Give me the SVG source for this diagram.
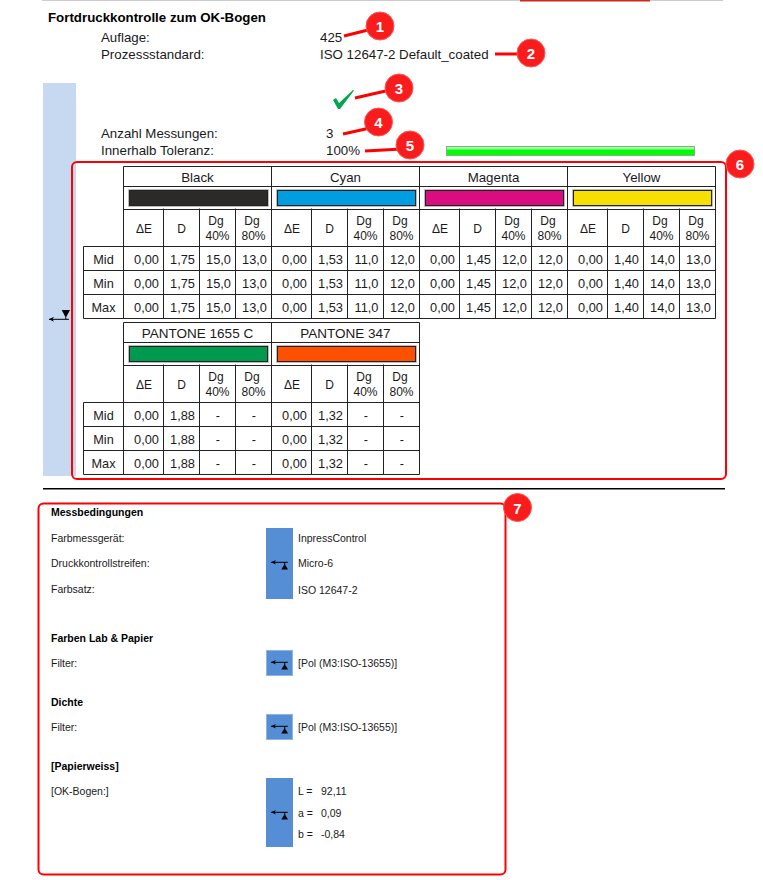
<svg xmlns="http://www.w3.org/2000/svg" width="763" height="880" viewBox="0 0 763 880">
<style>
text{font-family:"Liberation Sans",Arial,sans-serif;fill:#1a1a1a}
.t{font-size:13.3px}
.h{font-size:13.3px;font-weight:bold;fill:#000}
.c{font-size:13.3px;text-anchor:middle}
.d{font-size:12px;text-anchor:middle}
.r{font-size:12.7px;text-anchor:middle}
.n{font-size:12.8px;text-anchor:middle}
.s{font-size:10.5px}
.b{font-size:10.5px;font-weight:bold;fill:#000}
.grid{fill:none;stroke:#222;stroke-width:1}
.sw{stroke:#222;stroke-width:1}
.sw2{fill:none;stroke:#bbb;stroke-width:1}
.blue{fill:#558ed5}
.bluef{fill:#558ed5;stroke:#8eb4e3;stroke-width:1}
.box{fill:none;stroke:#f00;stroke-width:2}
.lead{fill:none;stroke:#f00;stroke-width:3}
.dot{fill:#f91c1c;stroke:#f55;stroke-width:1}
.num{font-size:15px;font-weight:bold;fill:#fff;text-anchor:middle}
</style>
<defs>
<g id="icon-up"><path d="M-13-.7H3.800" fill="none" stroke="#000"/><path d="M-13-.7L-8-3L-9.500-.7L-8 1.500Z" fill="#000"/><path d="M-2.700 6.500H4L.7 1Z" fill="#000"/><path d="M.7-.7V2" stroke="#000"/></g>
</defs>
<rect x="42" y="0" width="681" height="1" fill="#ccc"/>
<rect x="520" y="0" width="130" height="1.500" fill="#d0281a"/>

<g id="header">
<text class="h" x="48" y="22">Fortdruckkontrolle zum OK-Bogen</text>
<text class="t" x="101" y="42">Auflage:</text>
<text class="t" x="320" y="42">425</text>
<text class="t" x="101" y="59">Prozessstandard:</text>
<text class="t" x="320" y="59">ISO 12647-2 Default_coated</text>
</g>

<g id="summary">
<rect x="43" y="83" width="33" height="393" fill="#c6d9f1"/>
<g transform="translate(49,319.300)"><path d="M0 0H20" fill="none" stroke="#000"/><path d="M5-2.500L0 0L5 2.500L3.500 0Z" fill="#000"/><path d="M12.700-9.300H21L16.800-1.500Z" fill="#000"/><path d="M16.800-2V0" stroke="#000"/></g>
<path d="M333 100L336 98L339 103L353 90L354 90.500L340 109H338Z" fill="#00a651"/>
<text class="t" x="101" y="138">Anzahl Messungen:</text>
<text class="t" x="326" y="138">3</text>
<text class="t" x="101" y="155">Innerhalb Toleranz:</text>
<text class="t" x="326" y="155">100%</text>
<rect x="446.500" y="146.500" width="248" height="9" fill="#0f0" stroke="#8fa88f"/>
<rect x="447" y="147" width="247" height="2.500" fill="#9f9"/>
</g>

<g id="table-cmyk">
<rect x="129.500" y="190.500" width="138" height="15" fill="#2b2a29" class="sw"/>
<rect x="277.500" y="190.500" width="138" height="15" fill="#009ee0" class="sw"/>
<rect x="425.500" y="190.500" width="138" height="15" fill="#d90d7f" class="sw"/>
<rect x="573.500" y="190.500" width="138" height="15" fill="#f7e000" class="sw"/>
<path class="sw2" d="M128.500 189.500h140v17h-140zM276.500 189.500h140v17h-140zM424.500 189.500h140v17h-140zM572.500 189.500h140v17h-140z"/>
<path class="grid" d="M123.500 166.500H715.500M123.500 186.500H715.500M123.500 209.500H715.500M83.500 246.500H715.500M83.500 270.500H715.500M83.500 294.500H715.500M83.500 318.500H715.500M83.500 246.500V318.500M123.500 166.500V318.500M271.500 166.500V318.500M419.500 166.500V318.500M567.500 166.500V318.500M715.500 166.500V318.500M163.500 208.500V318.500M199.500 208.500V318.500M235.500 208.500V318.500M311.500 208.500V318.500M347.500 208.500V318.500M383.500 208.500V318.500M459.500 208.500V318.500M495.500 208.500V318.500M531.500 208.500V318.500M607.500 208.500V318.500M643.500 208.500V318.500M679.500 208.500V318.500"/>
<text class="c" x="197.500" y="182">Black</text><text class="c" x="345.500" y="182">Cyan</text><text class="c" x="493.500" y="182">Magenta</text><text class="c" x="641.500" y="182">Yellow</text>
<text class="d" x="144" y="233">ΔE</text><text class="d" x="181.500" y="233">D</text><text class="d" x="216" y="225">Dg</text><text class="d" x="217.500" y="240">40%</text><text class="d" x="252" y="225">Dg</text><text class="d" x="253.500" y="240">80%</text>
<text class="d" x="292" y="233">ΔE</text><text class="d" x="329.500" y="233">D</text><text class="d" x="364" y="225">Dg</text><text class="d" x="365.500" y="240">40%</text><text class="d" x="400" y="225">Dg</text><text class="d" x="401.500" y="240">80%</text>
<text class="d" x="440" y="233">ΔE</text><text class="d" x="477.500" y="233">D</text><text class="d" x="512" y="225">Dg</text><text class="d" x="513.500" y="240">40%</text><text class="d" x="548" y="225">Dg</text><text class="d" x="549.500" y="240">80%</text>
<text class="d" x="588" y="233">ΔE</text><text class="d" x="625.500" y="233">D</text><text class="d" x="660" y="225">Dg</text><text class="d" x="661.500" y="240">40%</text><text class="d" x="696" y="225">Dg</text><text class="d" x="697.500" y="240">80%</text>
<text class="r" x="103.500" y="264">Mid</text><text class="n" x="146.500" y="264">0,00</text><text class="n" x="182.500" y="264">1,75</text><text class="n" x="218.500" y="264">15,0</text><text class="n" x="254.500" y="264">13,0</text><text class="n" x="294.500" y="264">0,00</text><text class="n" x="330.500" y="264">1,53</text><text class="n" x="366.500" y="264">11,0</text><text class="n" x="402.500" y="264">12,0</text><text class="n" x="442.500" y="264">0,00</text><text class="n" x="478.500" y="264">1,45</text><text class="n" x="514.500" y="264">12,0</text><text class="n" x="550.500" y="264">12,0</text><text class="n" x="590.500" y="264">0,00</text><text class="n" x="626.500" y="264">1,40</text><text class="n" x="662.500" y="264">14,0</text><text class="n" x="698.500" y="264">13,0</text>
<text class="r" x="103.500" y="288">Min</text><text class="n" x="146.500" y="288">0,00</text><text class="n" x="182.500" y="288">1,75</text><text class="n" x="218.500" y="288">15,0</text><text class="n" x="254.500" y="288">13,0</text><text class="n" x="294.500" y="288">0,00</text><text class="n" x="330.500" y="288">1,53</text><text class="n" x="366.500" y="288">11,0</text><text class="n" x="402.500" y="288">12,0</text><text class="n" x="442.500" y="288">0,00</text><text class="n" x="478.500" y="288">1,45</text><text class="n" x="514.500" y="288">12,0</text><text class="n" x="550.500" y="288">12,0</text><text class="n" x="590.500" y="288">0,00</text><text class="n" x="626.500" y="288">1,40</text><text class="n" x="662.500" y="288">14,0</text><text class="n" x="698.500" y="288">13,0</text>
<text class="r" x="103.500" y="312">Max</text><text class="n" x="146.500" y="312">0,00</text><text class="n" x="182.500" y="312">1,75</text><text class="n" x="218.500" y="312">15,0</text><text class="n" x="254.500" y="312">13,0</text><text class="n" x="294.500" y="312">0,00</text><text class="n" x="330.500" y="312">1,53</text><text class="n" x="366.500" y="312">11,0</text><text class="n" x="402.500" y="312">12,0</text><text class="n" x="442.500" y="312">0,00</text><text class="n" x="478.500" y="312">1,45</text><text class="n" x="514.500" y="312">12,0</text><text class="n" x="550.500" y="312">12,0</text><text class="n" x="590.500" y="312">0,00</text><text class="n" x="626.500" y="312">1,40</text><text class="n" x="662.500" y="312">14,0</text><text class="n" x="698.500" y="312">13,0</text>
</g>

<g id="table-pantone">
<rect x="129.500" y="346.500" width="138" height="15" fill="#009a4e" class="sw"/>
<rect x="277.500" y="346.500" width="138" height="15" fill="#ff5000" class="sw"/>
<path class="sw2" d="M128.500 345.500h140v17h-140zM276.500 345.500h140v17h-140z"/>
<path class="grid" d="M123.500 322.500H419.500M123.500 342.500H419.500M123.500 365.500H419.500M83.500 402.500H419.500M83.500 426.500H419.500M83.500 450.500H419.500M83.500 474.500H419.500M83.500 402.500V474.500M123.500 322.500V474.500M271.500 322.500V474.500M419.500 322.500V474.500M163.500 364.500V474.500M199.500 364.500V474.500M235.500 364.500V474.500M311.500 364.500V474.500M347.500 364.500V474.500M383.500 364.500V474.500"/>
<text class="c" x="197.500" y="338" style="font-size:13.5px">PANTONE 1655 C</text><text class="c" x="345.500" y="338" style="font-size:13.5px">PANTONE 347</text>
<text class="d" x="144" y="389">ΔE</text><text class="d" x="181.500" y="389">D</text><text class="d" x="216" y="381">Dg</text><text class="d" x="217.500" y="396">40%</text><text class="d" x="252" y="381">Dg</text><text class="d" x="253.500" y="396">80%</text>
<text class="d" x="292" y="389">ΔE</text><text class="d" x="329.500" y="389">D</text><text class="d" x="364" y="381">Dg</text><text class="d" x="365.500" y="396">40%</text><text class="d" x="400" y="381">Dg</text><text class="d" x="401.500" y="396">80%</text>
<text class="r" x="103.500" y="420">Mid</text><text class="n" x="146.500" y="420">0,00</text><text class="n" x="182.500" y="420">1,88</text><text class="n" x="218" y="420">-</text><text class="n" x="254" y="420">-</text><text class="n" x="294.500" y="420">0,00</text><text class="n" x="330.500" y="420">1,32</text><text class="n" x="366" y="420">-</text><text class="n" x="402" y="420">-</text>
<text class="r" x="103.500" y="444">Min</text><text class="n" x="146.500" y="444">0,00</text><text class="n" x="182.500" y="444">1,88</text><text class="n" x="218" y="444">-</text><text class="n" x="254" y="444">-</text><text class="n" x="294.500" y="444">0,00</text><text class="n" x="330.500" y="444">1,32</text><text class="n" x="366" y="444">-</text><text class="n" x="402" y="444">-</text>
<text class="r" x="103.500" y="468">Max</text><text class="n" x="146.500" y="468">0,00</text><text class="n" x="182.500" y="468">1,88</text><text class="n" x="218" y="468">-</text><text class="n" x="254" y="468">-</text><text class="n" x="294.500" y="468">0,00</text><text class="n" x="330.500" y="468">1,32</text><text class="n" x="366" y="468">-</text><text class="n" x="402" y="468">-</text>
</g>

<rect x="43" y="488" width="682" height="1.500" fill="#000"/>

<g id="conditions">
<rect class="blue" x="266" y="528" width="27" height="71"/>
<rect class="bluef" x="266.500" y="650.500" width="26" height="25"/>
<rect class="bluef" x="266.500" y="714.500" width="26" height="25"/>
<rect class="blue" x="266" y="778" width="27" height="69"/>
<use href="#icon-up" x="284" y="563"/>
<use href="#icon-up" x="284" y="663"/>
<use href="#icon-up" x="284" y="727"/>
<use href="#icon-up" x="284" y="813"/>
<text class="b" x="51" y="516">Messbedingungen</text>
<text class="s" x="51" y="542">Farbmessgerät:</text>
<text class="s" x="51" y="567">Druckkontrollstreifen:</text>
<text class="s" x="51" y="593">Farbsatz:</text>
<text class="s" x="298" y="542">InpressControl</text>
<text class="s" x="298" y="567">Micro-6</text>
<text class="s" x="298" y="594">ISO 12647-2</text>
<text class="b" x="51" y="642">Farben Lab &amp; Papier</text>
<text class="s" x="51" y="667">Filter:</text>
<text class="s" x="298" y="667">[Pol (M3:ISO-13655)]</text>
<text class="b" x="51" y="706">Dichte</text>
<text class="s" x="51" y="731">Filter:</text>
<text class="s" x="298" y="731">[Pol (M3:ISO-13655)]</text>
<text class="b" x="51" y="770">[Papierweiss]</text>
<text class="s" x="51" y="795">[OK-Bogen:]</text>
<text class="s" x="298" y="795">L =</text><text class="s" x="321" y="795">92,11</text>
<text class="s" x="298" y="817">a =</text><text class="s" x="321" y="817">0,09</text>
<text class="s" x="298" y="838">b =</text><text class="s" x="321" y="838">-0,84</text>
</g>

<rect id="frame-6" class="box" x="72" y="162" width="654" height="317" rx="5"/>
<rect id="frame-7" class="box" x="38.500" y="503.500" width="467" height="371" rx="5"/>

<g id="connectors">
<path class="lead" d="M344 36L372 29"/>
<path class="lead" d="M495 54H522"/>
<path class="lead" d="M355 98L390 90"/>
<path class="lead" d="M343 134L370 128"/>
<path class="lead" d="M365 151L402 149"/>
</g>

<g id="callout-1"><circle class="dot" cx="380" cy="26" r="14"/><text class="num" x="380" y="32">1</text></g>
<g id="callout-2"><circle class="dot" cx="531" cy="53" r="14"/><text class="num" x="531" y="59">2</text></g>
<g id="callout-3"><circle class="dot" cx="399" cy="88" r="14"/><text class="num" x="399" y="94">3</text></g>
<g id="callout-4"><circle class="dot" cx="378.500" cy="122" r="14"/><text class="num" x="378.500" y="128">4</text></g>
<g id="callout-5"><circle class="dot" cx="410" cy="145" r="14"/><text class="num" x="410" y="151">5</text></g>
<g id="callout-6"><circle class="dot" cx="740" cy="164" r="14"/><text class="num" x="740" y="170">6</text></g>
<g id="callout-7"><circle class="dot" cx="517.500" cy="507.500" r="14"/><text class="num" x="517.500" y="513.500">7</text></g>
</svg>
